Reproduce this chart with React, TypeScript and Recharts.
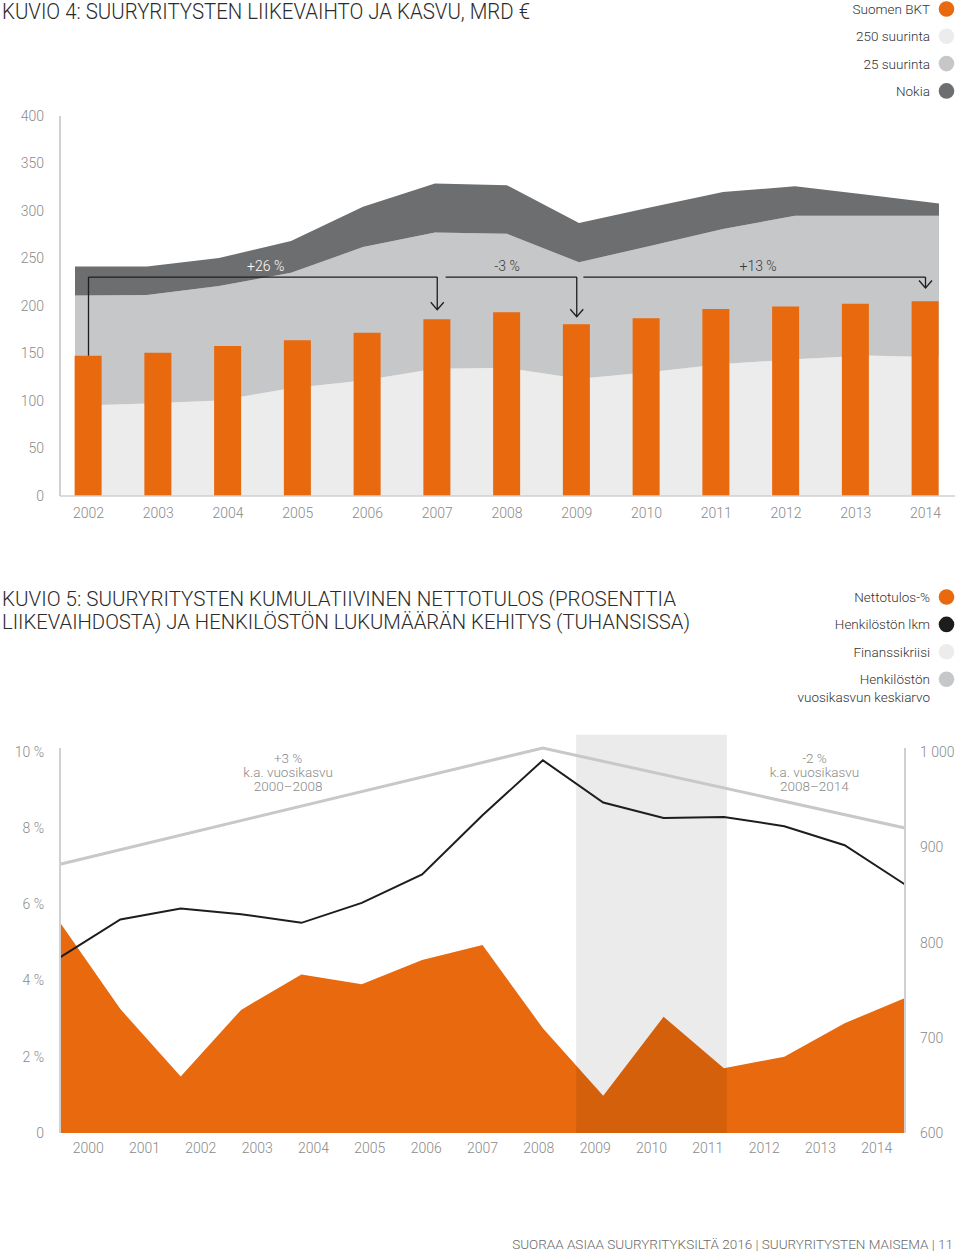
import React from 'react';
import {
  ComposedChart,
  Area,
  Bar,
  Line,
  XAxis,
  YAxis,
  ReferenceLine,
  ReferenceDot,
  ReferenceArea,
} from 'recharts';

// Kuvio 4 data (mrd €)
const years4 = [2002, 2003, 2004, 2005, 2006, 2007, 2008, 2009, 2010, 2011, 2012, 2013, 2014];
const gdp = [147.7, 150.9, 157.9, 163.9, 171.9, 186.0, 193.3, 180.7, 187.0, 196.8, 199.6, 202.4, 204.9];
// stacked layers: rest of the 250 largest, 25 largest (excl. Nokia), Nokia
const top250 = [95, 97.5, 100.5, 113.5, 121.5, 134, 135, 123.5, 130.5, 139, 144, 148, 146];
const top25 = [116, 114, 120.5, 121.5, 140.5, 143.5, 141, 122.5, 133, 142, 151, 147, 149];
const nokia = [30.5, 30, 29.5, 33.5, 42.5, 51.5, 51, 41.5, 40.5, 39, 31, 22, 13];
const ticks4 = [0, 50, 100, 150, 200, 250, 300, 350, 400];

// growth brackets above the bars
const bracketLevel = 230.5;
const arrowTips = [
  { year: 2007, tip: 196 },
  { year: 2009, tip: 188.7 },
  { year: 2014, tip: 219 },
];
const growthLabels = [
  { year: 2004.54, text: '+26 %', fill: '#ffffff' },
  { year: 2008, text: '-3 %', fill: '#3a3a3a' },
  { year: 2011.6, text: '+13 %', fill: '#3a3a3a' },
];
const growthLabelLevel = 242.5;

// Kuvio 5 data
const years5 = [2000, 2001, 2002, 2003, 2004, 2005, 2006, 2007, 2008, 2009, 2010, 2011, 2012, 2013, 2014];
const netMargin = [5.52, 3.25, 1.48, 3.23, 4.16, 3.9, 4.54, 4.93, 2.75, 0.98, 3.05, 1.7, 2.0, 2.88, 3.54];
const staff = [784.5, 824.4, 835.9, 829.9, 820.8, 841.8, 871.6, 933.9, 991.6, 947.2, 931, 932.1, 922.3, 902.4, 861.1];
const staffTrend = [882.4, null, null, null, null, null, null, null, 1004.5, null, null, null, null, null, 920.5];
const crisis = { from: 2008.55, to: 2011.05 };
const leftTicks = [0, 2, 4, 6, 8, 10];
const rightTicks = [600, 700, 800, 900, 1000];
const trendNotes = [
  { year: 2003.78, lines: ['+3 %', 'k.a. vuosikasvu', '2000–2008'] },
  { year: 2012.5, lines: ['-2 %', 'k.a. vuosikasvu', '2008–2014'] },
];

const ORANGE = '#e8690e';
const DARK = '#6d6e70';
const MID = '#c6c7c8';
const LIGHT = '#ebeceb';
const TICK = '#8a8a8a';
const AXIS = '#d0d0d0';
const FONT = 'Roboto, "Open Sans", sans-serif';

const data4 = years4.map((year, i) => ({
  year,
  gdp: gdp[i],
  top250: top250[i],
  top25: top25[i],
  nokia: nokia[i],
}));

const data5 = years5.map((year, i) => ({
  year,
  margin: netMargin[i],
  staff: staff[i],
  trend: staffTrend[i],
}));

const tickStyle = { fill: TICK, fontSize: 14, fontFamily: FONT, fontWeight: 300 };

const fmtPct = (v: number) => (v === 0 ? '0' : `${v} %`);
const fmtThousands = (v: number) => String(v).replace(/\B(?=(\d{3})+(?!\d))/g, ' ');

const legend4 = [
  { name: 'Suomen BKT', color: ORANGE },
  { name: '250 suurinta', color: LIGHT },
  { name: '25 suurinta', color: MID },
  { name: 'Nokia', color: DARK },
];
const legend5 = [
  { name: ['Nettotulos-%'], color: ORANGE },
  { name: ['Henkilöstön lkm'], color: '#1d1d1b' },
  { name: ['Finanssikriisi'], color: LIGHT },
  { name: ['Henkilöstön', 'vuosikasvun keskiarvo'], color: MID },
];

function Chevron(props: any) {
  const { cx, cy } = props;
  return (
    <path
      d={`M${cx - 6.5},${cy - 7.5} L${cx},${cy} L${cx + 6.5},${cy - 7.5}`}
      fill="none"
      stroke="#1e1e1e"
      strokeWidth={1.3}
    />
  );
}

function FitText({ x, y, width, size, fill, children }: any) {
  return (
    <text
      x={x}
      y={y}
      fontSize={size}
      fill={fill}
      fontFamily={FONT}
      fontWeight={300}
      textLength={width}
      lengthAdjust="spacingAndGlyphs"
    >
      {children}
    </text>
  );
}

export default function App() {
  return (
    <div style={{ position: 'relative', width: 960, height: 1252, background: '#fff', overflow: 'hidden' }}>
      <style>{'body{margin:0}'}</style>

      {/* Kuvio 4 */}
      <div style={{ position: 'absolute', left: 0, top: 0 }}>
        <ComposedChart width={960} height={540} data={data4} margin={{ top: 116, right: 5, bottom: 14, left: 0 }}>
          <XAxis
            xAxisId="bar"
            dataKey="year"
            type="number"
            domain={[2002, 2014]}
            ticks={years4}
            interval={0}
            height={30}
            padding={{ left: 28.5, right: 29.5 }}
            tickFormatter={(v) => String(v)}
            tick={tickStyle}
            tickLine={false}
            tickSize={0}
            tickMargin={12}
            axisLine={{ stroke: AXIS, strokeWidth: 1.5 }}
          />
          <XAxis
            xAxisId="area"
            dataKey="year"
            type="number"
            domain={[2002, 2014]}
            padding={{ left: 15, right: 16 }}
            height={0}
            hide
          />
          <YAxis
            domain={[0, 400]}
            ticks={ticks4}
            interval={0}
            tick={tickStyle}
            tickLine={false}
            tickSize={0}
            tickMargin={16}
            axisLine={{ stroke: AXIS, strokeWidth: 2 }}
          />
          <Area xAxisId="area" type="linear" dataKey="top250" stackId="s" fill={LIGHT} fillOpacity={1} stroke="none" isAnimationActive={false} />
          <Area xAxisId="area" type="linear" dataKey="top25" stackId="s" fill={MID} fillOpacity={1} stroke="none" isAnimationActive={false} />
          <Area xAxisId="area" type="linear" dataKey="nokia" stackId="s" fill={DARK} fillOpacity={1} stroke="none" isAnimationActive={false} />
          <Bar xAxisId="bar" dataKey="gdp" fill={ORANGE} barSize={27} isAnimationActive={false} />

          <ReferenceLine
            xAxisId="bar"
            segment={[{ x: years4[0], y: gdp[0] }, { x: years4[0], y: bracketLevel }]}
            stroke="#1e1e1e"
            strokeWidth={1.3}
            ifOverflow="visible"
          />
          <ReferenceLine
            xAxisId="bar"
            segment={[{ x: years4[0], y: bracketLevel }, { x: arrowTips[0].year, y: bracketLevel }]}
            stroke="#1e1e1e"
            strokeWidth={1.3}
            ifOverflow="visible"
          />
          <ReferenceLine
            xAxisId="bar"
            segment={[{ x: arrowTips[0].year + 0.12, y: bracketLevel }, { x: arrowTips[1].year, y: bracketLevel }]}
            stroke="#1e1e1e"
            strokeWidth={1.3}
            ifOverflow="visible"
          />
          <ReferenceLine
            xAxisId="bar"
            segment={[{ x: arrowTips[1].year + 0.095, y: bracketLevel }, { x: arrowTips[2].year, y: bracketLevel }]}
            stroke="#1e1e1e"
            strokeWidth={1.3}
            ifOverflow="visible"
          />
          {arrowTips.map((a) => (
            <ReferenceLine
              key={`v${a.year}`}
              xAxisId="bar"
              segment={[{ x: a.year, y: bracketLevel }, { x: a.year, y: a.tip }]}
              stroke="#1e1e1e"
              strokeWidth={1.3}
              ifOverflow="visible"
            />
          ))}
          {arrowTips.map((a) => (
            <ReferenceDot
              key={`c${a.year}`}
              xAxisId="bar"
              x={a.year}
              y={a.tip}
              r={0}
              ifOverflow="visible"
              shape={(p: any) => <Chevron {...p} />}
            />
          ))}
          {growthLabels.map((g) => (
            <ReferenceDot
              key={g.text}
              xAxisId="bar"
              x={g.year}
              y={growthLabelLevel}
              r={0}
              ifOverflow="visible"
              shape={(p: any) => (
                <text
                  x={p.cx}
                  y={p.cy}
                  textAnchor="middle"
                  dominantBaseline="central"
                  fontSize={14}
                  fontFamily={FONT}
                  fontWeight={300}
                  fill={g.fill}
                >
                  {g.text}
                </text>
              )}
            />
          ))}
        </ComposedChart>
      </div>

      {/* Kuvio 5 */}
      <div style={{ position: 'absolute', left: 0, top: 700 }}>
        <ComposedChart width={960} height={480} data={data5} margin={{ top: 48, right: 0, bottom: 17, left: 0 }}>
          <XAxis
            xAxisId="cat"
            dataKey="year"
            type="category"
            scale="band"
            interval={0}
            height={30}
            tick={tickStyle}
            tickLine={false}
            tickSize={0}
            tickMargin={10}
            axisLine={false}
          />
          <XAxis xAxisId="num" dataKey="year" type="number" domain={[2000, 2014]} height={0} hide />
          <YAxis
            yAxisId="left"
            domain={[0, 10.1]}
            ticks={leftTicks}
            interval={0}
            tickFormatter={fmtPct}
            tick={tickStyle}
            tickLine={false}
            tickSize={0}
            tickMargin={16}
            axisLine={{ stroke: AXIS, strokeWidth: 2 }}
          />
          <YAxis
            yAxisId="right"
            orientation="right"
            width={55}
            domain={[600, 1004.5]}
            ticks={rightTicks}
            interval={0}
            tickFormatter={fmtThousands}
            tick={tickStyle}
            tickLine={false}
            tickSize={0}
            tickMargin={15}
            axisLine={{ stroke: AXIS, strokeWidth: 2 }}
          />
          <Area
            xAxisId="num"
            yAxisId="left"
            type="linear"
            dataKey="margin"
            fill={ORANGE}
            fillOpacity={1}
            stroke="none"
            isAnimationActive={false}
          />
          <ReferenceArea
            xAxisId="num"
            yAxisId="left"
            x1={crisis.from}
            x2={crisis.to}
            y1={0}
            y2={10.45}
            fill="#000"
            fillOpacity={0.08}
            stroke="none"
            ifOverflow="visible"
          />
          <Line
            xAxisId="num"
            yAxisId="right"
            type="linear"
            dataKey="trend"
            stroke="#c8c8c8"
            strokeWidth={3}
            dot={false}
            connectNulls
            isAnimationActive={false}
          />
          <Line
            xAxisId="num"
            yAxisId="right"
            type="linear"
            dataKey="staff"
            stroke="#1d1d1b"
            strokeWidth={2}
            dot={false}
            isAnimationActive={false}
          />
          {trendNotes.map((n) => (
            <ReferenceDot
              key={n.lines[2]}
              xAxisId="num"
              yAxisId="left"
              x={n.year}
              y={10.1}
              r={0}
              ifOverflow="visible"
              shape={(p: any) => (
                <text textAnchor="middle" fontSize={13.5} fontFamily={FONT} fontWeight={300} fill="#8a8a8a">
                  {n.lines.map((l, i) => (
                    <tspan key={l} x={p.cx} y={p.cy + 15 + i * 14}>
                      {l}
                    </tspan>
                  ))}
                </text>
              )}
            />
          ))}
        </ComposedChart>
      </div>

      {/* titles, legends, footer */}
      <svg
        width={960}
        height={1252}
        style={{ position: 'absolute', left: 0, top: 0, pointerEvents: 'none' }}
      >
        <FitText x={2} y={19} width={528} size={22} fill="#2b2b2b">
          KUVIO 4: SUURYRITYSTEN LIIKEVAIHTO JA KASVU, MRD €
        </FitText>
        <FitText x={2} y={606} width={674} size={21} fill="#2b2b2b">
          KUVIO 5: SUURYRITYSTEN KUMULATIIVINEN NETTOTULOS (PROSENTTIA
        </FitText>
        <FitText x={2} y={629} width={688} size={21} fill="#2b2b2b">
          LIIKEVAIHDOSTA) JA HENKILÖSTÖN LUKUMÄÄRÄN KEHITYS (TUHANSISSA)
        </FitText>

        {legend4.map((l, i) => (
          <g key={l.name}>
            <text
              x={930}
              y={9 + i * 27.3}
              textAnchor="end"
              dominantBaseline="central"
              fontSize={13.5}
              fontFamily={FONT}
              fontWeight={300}
              fill="#333"
            >
              {l.name}
            </text>
            <circle cx={946.5} cy={9 + i * 27.3} r={7.8} fill={l.color} />
          </g>
        ))}

        {legend5.map((l, i) => (
          <g key={l.name[0]}>
            {l.name.map((t, j) => (
              <text
                key={t}
                x={930}
                y={597 + i * 27.4 + j * 17.5}
                textAnchor="end"
                dominantBaseline="central"
                fontSize={13.5}
                fontFamily={FONT}
                fontWeight={300}
                fill="#333"
              >
                {t}
              </text>
            ))}
            <circle cx={946.5} cy={597 + i * 27.4} r={7.8} fill={l.color} />
          </g>
        ))}

        <text
          x={953}
          y={1244}
          textAnchor="end"
          dominantBaseline="central"
          fontSize={13.5}
          fontFamily={FONT}
          fontWeight={300}
          fill="#6a6a6a"
        >
          SUORAA ASIAA SUURYRITYKSILTÄ 2016 | SUURYRITYSTEN MAISEMA | 11
        </text>
      </svg>
    </div>
  );
}
